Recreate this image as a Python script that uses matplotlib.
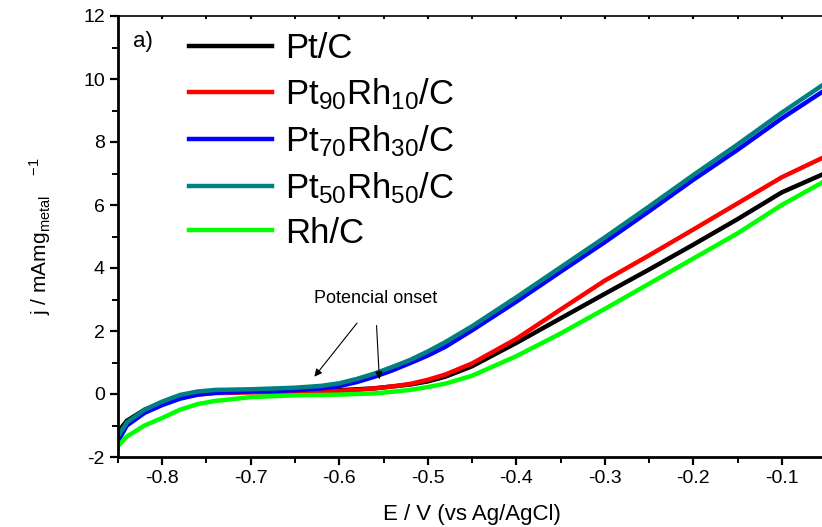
import matplotlib.pyplot as plt
from matplotlib.ticker import MultipleLocator

plt.rcParams["font.family"] = ["Liberation Sans", "DejaVu Sans"]
plt.rcParams["mathtext.fontset"] = "custom"
plt.rcParams["mathtext.rm"] = "Liberation Sans"
plt.rcParams["mathtext.default"] = "regular"
plt.rcParams["axes.unicode_minus"] = False

# potential (V vs Ag/AgCl) and current densities
E = [-0.85, -0.84, -0.82, -0.80, -0.78, -0.76, -0.74, -0.70, -0.65, -0.62,
     -0.60, -0.58, -0.56, -0.54, -0.52, -0.50, -0.48, -0.45, -0.40, -0.35,
     -0.30, -0.25, -0.20, -0.15, -0.10, -0.05]

pt_c = [-1.20, -0.85, -0.50, -0.28, -0.10, 0.00, 0.05, 0.07, 0.08, 0.10,
        0.12, 0.15, 0.18, 0.24, 0.30, 0.40, 0.55, 0.88, 1.62, 2.40,
        3.18, 3.95, 4.74, 5.55, 6.40, 7.02]
pt90rh10 = [-1.40, -0.95, -0.55, -0.30, -0.12, -0.02, 0.03, 0.05, 0.06, 0.08,
            0.10, 0.13, 0.18, 0.24, 0.32, 0.45, 0.62, 0.97, 1.75, 2.68,
            3.60, 4.40, 5.22, 6.05, 6.88, 7.55]
pt70rh30 = [-1.50, -1.00, -0.60, -0.35, -0.15, -0.02, 0.04, 0.08, 0.12, 0.18,
            0.25, 0.38, 0.55, 0.75, 0.98, 1.22, 1.50, 2.02, 2.93, 3.88,
            4.82, 5.80, 6.80, 7.75, 8.75, 9.67]
pt50rh50 = [-1.35, -0.90, -0.50, -0.24, -0.03, 0.08, 0.13, 0.15, 0.20, 0.26,
            0.34, 0.48, 0.65, 0.86, 1.08, 1.35, 1.65, 2.15, 3.07, 4.02,
            4.97, 5.95, 6.95, 7.92, 8.93, 9.88]
rh_c = [-1.65, -1.35, -1.00, -0.76, -0.50, -0.32, -0.22, -0.10, -0.04, -0.03,
        -0.02, 0.00, 0.02, 0.07, 0.13, 0.22, 0.33, 0.58, 1.20, 1.92,
        2.70, 3.50, 4.30, 5.10, 6.00, 6.78]

series = [
    ("Pt/C", pt_c, "black"),
    ("Pt$_{90}$Rh$_{10}$/C", pt90rh10, "#ff0000"),
    ("Pt$_{70}$Rh$_{30}$/C", pt70rh30, "#0000ff"),
    ("Pt$_{50}$Rh$_{50}$/C", pt50rh50, "#008080"),
    ("Rh/C", rh_c, "#00ff00"),
]

fig = plt.figure(figsize=(8.22, 5.27), dpi=100)
ax = fig.add_axes([118 / 822, 70 / 527, 708 / 822, 441 / 527])

for label, values, color in series:
    ax.plot(E, values, color=color, lw=3.2, label=label)

ax.set_xlim(-0.85, -0.05)
ax.set_ylim(-2, 12)
ax.xaxis.set_major_locator(MultipleLocator(0.1))
ax.xaxis.set_minor_locator(MultipleLocator(0.05))
ax.yaxis.set_major_locator(MultipleLocator(2))
ax.yaxis.set_minor_locator(MultipleLocator(1))
ax.xaxis.set_major_formatter(plt.FuncFormatter(lambda v, p: f"{v:.1f}"))

ax.tick_params(axis="both", which="major", direction="out", length=6,
               width=1.6, labelsize=14)
ax.tick_params(axis="both", which="minor", direction="out", length=4,
               width=1.4)
ax.tick_params(axis="x", which="both", top=True)
ax.tick_params(axis="x", which="major", labeltop=False)

for side in ["left", "bottom"]:
    ax.spines[side].set_linewidth(2)
ax.spines["top"].set_linewidth(1.2)
ax.spines["right"].set_visible(False)

# top ticks are small and point inward
for t in ax.xaxis.get_major_ticks() + ax.xaxis.get_minor_ticks():
    t.tick2line.set_markersize(2)
    t.tick2line.set_marker(3)

ax.set_xlabel("E / V (vs Ag/AgCl)", fontsize=16, labelpad=12)
ax.set_ylabel(r"j / mAmg$_{metal}\ \ \ {}^{-1}$", fontsize=15, labelpad=22)

ax.text(0.021, 0.965, "a)", transform=ax.transAxes, fontsize=16, va="top")

ax.legend(loc="upper left", bbox_to_anchor=(0.08, 0.995), frameon=False,
          fontsize=25, handlelength=2.4, handletextpad=0.37,
          labelspacing=0.32, borderaxespad=0)

ax.text(-0.559, 3.02, "Potencial onset", fontsize=13, ha="center",
        va="center")
ax.annotate("", xy=(-0.630, 0.48), xytext=(-0.578, 2.32),
            arrowprops=dict(arrowstyle="-|>", color="black", lw=0.8,
                            mutation_scale=11))
ax.annotate("", xy=(-0.5545, 0.38), xytext=(-0.558, 2.26),
            arrowprops=dict(arrowstyle="-|>", color="black", lw=0.8,
                            mutation_scale=11))

fig.savefig("out.png", dpi=100)
